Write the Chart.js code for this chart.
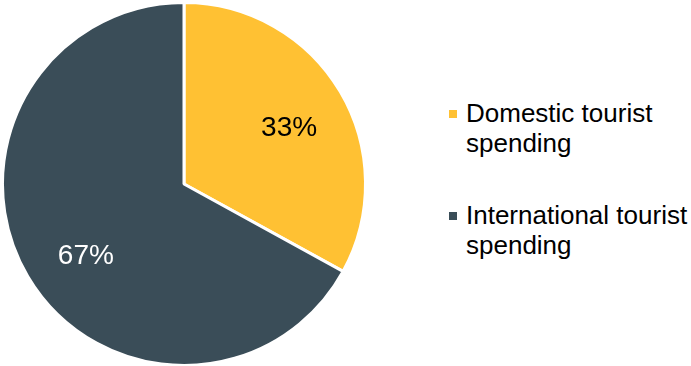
<!DOCTYPE html>
<html>
<head>
<meta charset="utf-8">
<script src="https://cdn.jsdelivr.net/npm/chart.js@4/dist/chart.umd.min.js"></script>
<style>
  html, body { margin: 0; padding: 0; background: #fff; }
  body { width: 691px; height: 366px; position: relative; overflow: hidden; font-family: "Liberation Sans", Arial, sans-serif; }
  #wrap { position: absolute; left: 0; top: 1px; width: 368px; height: 366px; }
  #legend { position: absolute; left: 449px; top: 0; }
  .item { position: absolute; left: 0; white-space: nowrap; font-size: 26px; line-height: 30px; color: #000; }
  .item .box { position: absolute; left: 0; top: 12px; width: 8px; height: 8px; }
  .item .txt { margin-left: 17px; }
</style>
</head>
<body>
<div id="wrap"><canvas id="pie"></canvas></div>
<div id="legend"></div>
<script>
// data
const categories = [['Domestic tourist', 'spending'], ['International tourist', 'spending']];
const shares = [33, 67];
const colors = ['#FFC133', '#3A4D58'];
const labelColors = ['#000000', '#ffffff'];

// percentage labels inside the slices (small nudges to match the original placement)
const labelNudge = [[2, 5], [5, 11]];
const sliceLabels = {
  id: 'sliceLabels',
  afterDatasetsDraw(chart) {
    const ctx = chart.ctx;
    const meta = chart.getDatasetMeta(0);
    ctx.save();
    ctx.font = '28px "Liberation Sans", Arial, sans-serif';
    ctx.textAlign = 'center';
    ctx.textBaseline = 'middle';
    meta.data.forEach((arc, i) => {
      const p = arc.getProps(['x', 'y', 'startAngle', 'endAngle', 'outerRadius']);
      const mid = (p.startAngle + p.endAngle) / 2;
      const r = p.outerRadius * 0.66;
      ctx.fillStyle = labelColors[i];
      ctx.fillText(shares[i] + '%', p.x + Math.cos(mid) * r + labelNudge[i][0], p.y + Math.sin(mid) * r + labelNudge[i][1]);
    });
    ctx.restore();
  }
};

new Chart(document.getElementById('pie').getContext('2d'), {
  type: 'pie',
  data: {
    labels: categories,
    datasets: [{ data: shares, backgroundColor: colors, borderColor: '#ffffff', borderWidth: 3 }]
  },
  options: {
    responsive: true,
    maintainAspectRatio: false,
    animation: false,
    layout: { padding: 0 },
    plugins: { legend: { display: false }, tooltip: { enabled: false } }
  },
  plugins: [sliceLabels]
});

// html legend
const legend = document.getElementById('legend');
const tops = [98, 200];
categories.forEach((lines, i) => {
  const d = document.createElement('div');
  d.className = 'item';
  d.style.top = tops[i] + 'px';
  d.innerHTML = '<span class="box" style="background:' + colors[i] + '"></span><div class="txt">' + lines.join('<br>') + '</div>';
  legend.appendChild(d);
});
</script>
</body>
</html>
